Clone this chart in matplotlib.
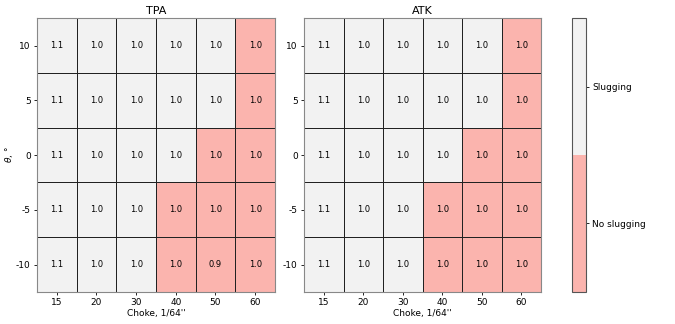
import matplotlib
matplotlib.use('Agg')
import matplotlib.pyplot as plt
import numpy as np
from matplotlib.colors import ListedColormap

chokes = [15, 20, 30, 40, 50, 60]
angles = [10, 5, 0, -5, -10]

# ratio values shown in cells (rows = angles, cols = chokes)
tpa_vals = [[1.1, 1.0, 1.0, 1.0, 1.0, 1.0],
            [1.1, 1.0, 1.0, 1.0, 1.0, 1.0],
            [1.1, 1.0, 1.0, 1.0, 1.0, 1.0],
            [1.1, 1.0, 1.0, 1.0, 1.0, 1.0],
            [1.1, 1.0, 1.0, 1.0, 0.9, 1.0]]
atk_vals = [[1.1, 1.0, 1.0, 1.0, 1.0, 1.0],
            [1.1, 1.0, 1.0, 1.0, 1.0, 1.0],
            [1.1, 1.0, 1.0, 1.0, 1.0, 1.0],
            [1.1, 1.0, 1.0, 1.0, 1.0, 1.0],
            [1.1, 1.0, 1.0, 1.0, 1.0, 1.0]]
# 1 = slugging, 0 = no slugging
tpa_slug = [[1, 1, 1, 1, 1, 0],
            [1, 1, 1, 1, 1, 0],
            [1, 1, 1, 1, 0, 0],
            [1, 1, 1, 0, 0, 0],
            [1, 1, 1, 0, 0, 0]]
atk_slug = [[1, 1, 1, 1, 1, 0],
            [1, 1, 1, 1, 1, 0],
            [1, 1, 1, 1, 0, 0],
            [1, 1, 1, 0, 0, 0],
            [1, 1, 1, 0, 0, 0]]
labels = ['No slugging', 'Slugging']

cmap = ListedColormap(['#fbb4ae', '#f2f2f2'])

fig = plt.figure(figsize=(6.75, 3.24), dpi=100)
ax1 = fig.add_axes([0.0548, 0.099, 0.3526, 0.845])
ax2 = fig.add_axes([0.4504, 0.099, 0.3511, 0.845])
cax = fig.add_axes([0.8474, 0.099, 0.0207, 0.845])

for ax, vals, slug, title in [(ax1, tpa_vals, tpa_slug, 'TPA'), (ax2, atk_vals, atk_slug, 'ATK')]:
    s = np.array(slug)[::-1]
    v = np.array(vals)[::-1]
    mesh = ax.pcolormesh(s, cmap=cmap, vmin=0, vmax=1, edgecolors='#222222', linewidth=0.5)
    for i in range(v.shape[0]):
        for j in range(v.shape[1]):
            ax.text(j + 0.5, i + 0.5, '%.1f' % v[i, j], ha='center', va='center', fontsize=6)
    ax.set_xticks(np.arange(len(chokes)) + 0.5)
    ax.set_xticklabels(chokes, fontsize=6.5)
    ax.set_yticks(np.arange(len(angles)) + 0.5)
    ax.set_yticklabels(angles[::-1], fontsize=6.5)
    ax.tick_params(length=2.5, width=0.6, pad=2)
    ax.set_xlabel("Choke, 1/64''", fontsize=6.5, labelpad=1)
    ax.set_title(title, fontsize=8, pad=3)
    for sp in ax.spines.values():
        sp.set_color('#888888')

ax1.set_ylabel(r'$\theta$, °', fontsize=6.5, labelpad=1)

cb = fig.colorbar(mesh, cax=cax, ticks=[0.25, 0.75])
cb.set_ticklabels(labels)
cb.ax.tick_params(labelsize=6.5, length=2.5, width=0.6, pad=2)
cb.outline.set_edgecolor('#555555')

fig.savefig('out.png', dpi=100)
